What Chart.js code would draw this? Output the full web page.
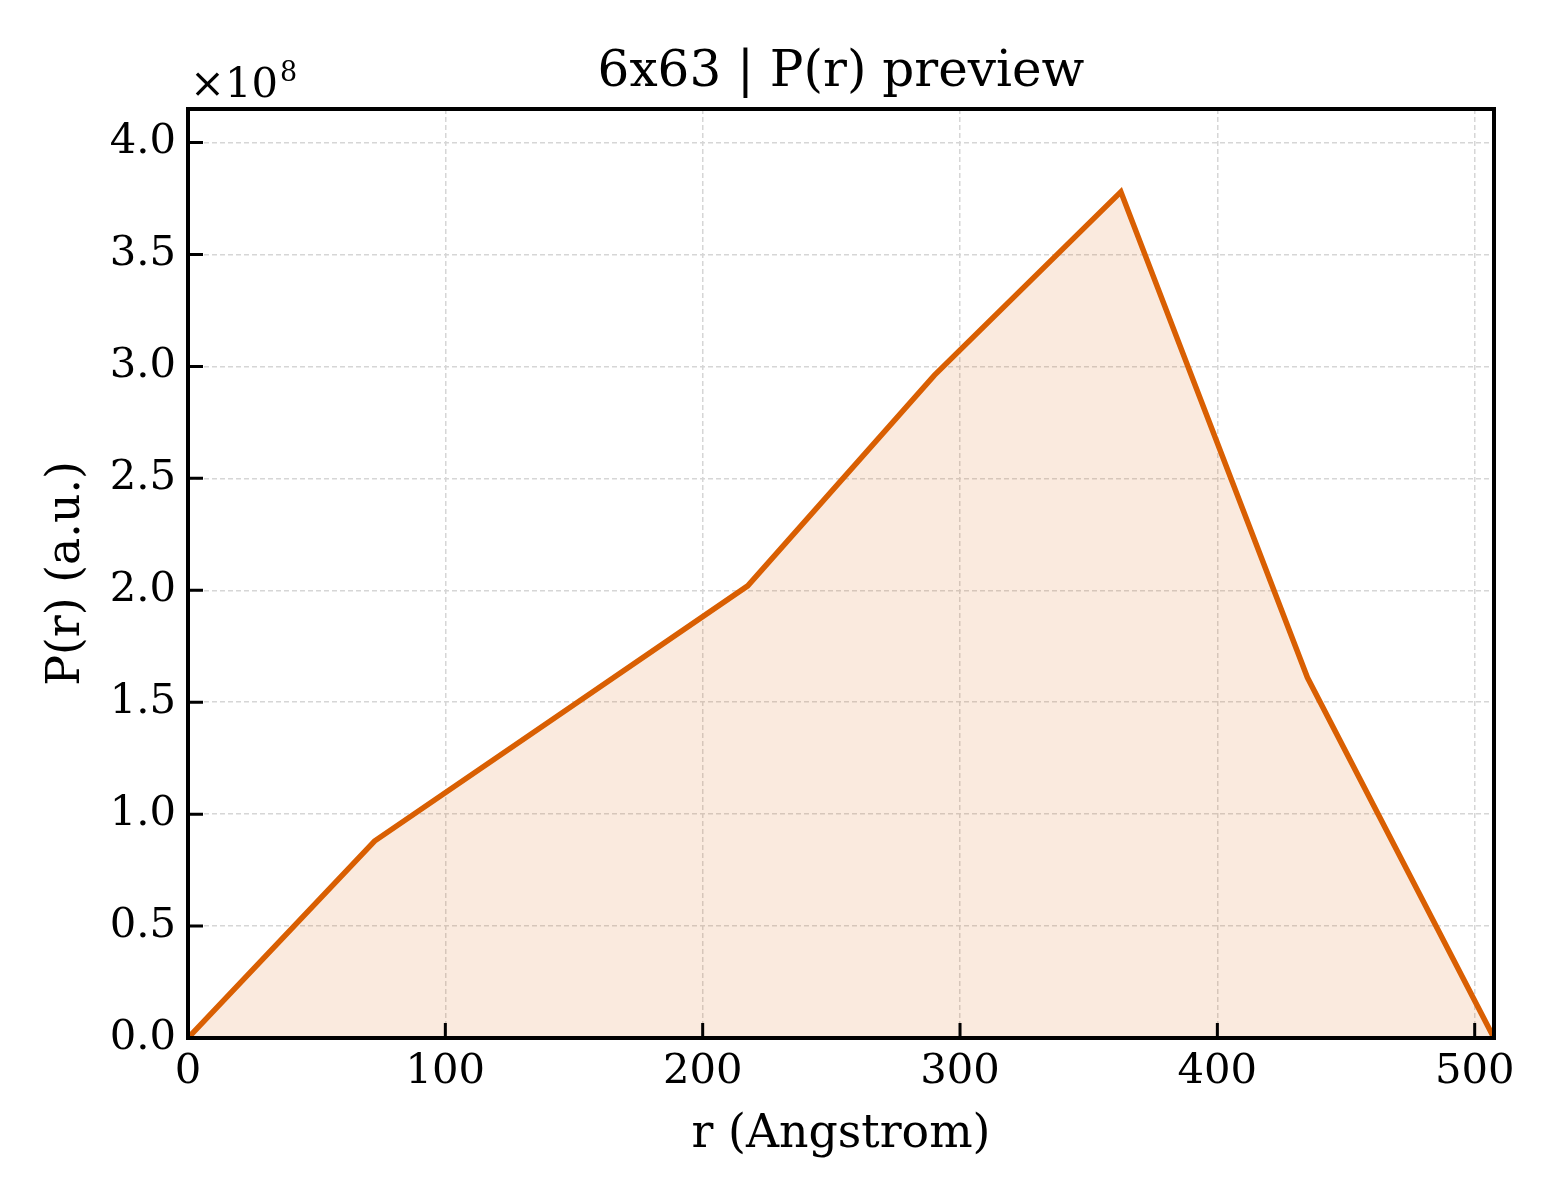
<!DOCTYPE html>
<html>
<head>
<meta charset="utf-8">
<script src="https://cdn.jsdelivr.net/npm/chart.js@4.4.1/dist/chart.umd.min.js"></script>
<style>
html, body { margin: 0; padding: 0; background: #fff; }
</style>
</head>
<body>
<canvas id="myChart" width="1560" height="1200"></canvas>
<script>
// P(r) values
var rValues = [0, 72.5, 145, 217.5, 290, 362.5, 435, 507.5];
var prValues = [0, 0.88e8, 1.45e8, 2.02e8, 2.96e8, 3.78e8, 1.61e8, 0];
var xTicks = [0, 100, 200, 300, 400, 500];
var yTicks = [0, 0.5e8, 1.0e8, 1.5e8, 2.0e8, 2.5e8, 3.0e8, 3.5e8, 4.0e8];
var titleText = '6x63 | P(r) preview';

var FONT = '"DejaVu Serif", "Liberation Serif", serif';

var points = [];
for (var i = 0; i < rValues.length; i++) {
    points.push({ x: rValues[i], y: prValues[i] });
}

// frame, inward ticks, title over the plot area and the x10^8 offset label
var framePlugin = {
    id: 'frame',
    afterDatasetsDraw: function(chart) {
        var ctx = chart.ctx, a = chart.chartArea;
        var xs = chart.scales.x, ys = chart.scales.y;
        ctx.save();
        ctx.strokeStyle = '#000';
        ctx.lineWidth = 3;
        ctx.beginPath();
        xTicks.forEach(function(v) {
            var px = xs.getPixelForValue(v);
            ctx.moveTo(px, a.bottom);
            ctx.lineTo(px, a.bottom - 15);
        });
        yTicks.forEach(function(v) {
            var py = ys.getPixelForValue(v);
            ctx.moveTo(a.left, py);
            ctx.lineTo(a.left + 15, py);
        });
        ctx.stroke();
        ctx.lineWidth = 4;
        ctx.strokeRect(a.left, a.top, a.right - a.left, a.bottom - a.top);

        ctx.fillStyle = '#000';
        ctx.textBaseline = 'alphabetic';
        ctx.textAlign = 'center';
        ctx.font = '50px ' + FONT;
        ctx.fillText(titleText, (a.left + a.right) / 2, 86);

        ctx.textAlign = 'left';
        ctx.font = '41.7px ' + FONT;
        ctx.fillText('\u00d710', a.left + 2, a.top - 12);
        var w = ctx.measureText('\u00d710').width;
        ctx.font = '27px ' + FONT;
        ctx.fillText('8', a.left + 2 + w + 2, a.top - 28);
        ctx.restore();
    }
};

var ctx = document.getElementById('myChart').getContext('2d');
var chart = new Chart(ctx, {
    type: 'line',
    data: {
        datasets: [{
            data: points,
            borderColor: '#d95f02',
            backgroundColor: 'rgba(217, 95, 2, 0.13)',
            borderWidth: 5.5,
            fill: 'origin',
            pointRadius: 0,
            tension: 0
        }]
    },
    options: {
        responsive: false,
        animation: false,
        devicePixelRatio: 1,
        layout: { padding: { top: 109, right: 66, bottom: 0, left: 0 } },
        plugins: {
            legend: { display: false },
            tooltip: { enabled: false },
            title: { display: false }
        },
        scales: {
            x: {
                type: 'linear',
                min: 0,
                max: 507.5,
                afterBuildTicks: function(scale) {
                    scale.ticks = xTicks.map(function(v) { return { value: v }; });
                },
                afterFit: function(scale) { scale.height = 162; },
                ticks: {
                    color: '#000',
                    font: { family: FONT, size: 41.7 },
                    padding: 9,
                    maxRotation: 0,
                    callback: function(v) { return String(v); }
                },
                grid: { color: '#d6d6d6', lineWidth: 1.5, drawTicks: false },
                border: { display: false, dash: [5, 3] },
                title: {
                    display: true,
                    text: 'r (Angstrom)',
                    color: '#000',
                    font: { family: FONT, size: 45.8 },
                    padding: { top: 10, bottom: 37 }
                }
            },
            y: {
                type: 'linear',
                min: 0,
                max: 4.15e8,
                afterBuildTicks: function(scale) {
                    scale.ticks = yTicks.map(function(v) { return { value: v }; });
                },
                afterFit: function(scale) { scale.width = 188; },
                ticks: {
                    color: '#000',
                    font: { family: FONT, size: 41.7 },
                    padding: 12,
                    callback: function(v) { return (v / 1e8).toFixed(1); }
                },
                grid: { color: '#d6d6d6', lineWidth: 1.5, drawTicks: false },
                border: { display: false, dash: [5, 3] },
                title: {
                    display: true,
                    text: 'P(r) (a.u.)',
                    color: '#000',
                    font: { family: FONT, size: 45.8 },
                    padding: { top: 40, bottom: 0 }
                }
            }
        }
    },
    plugins: [framePlugin]
});
</script>
</body>
</html>
